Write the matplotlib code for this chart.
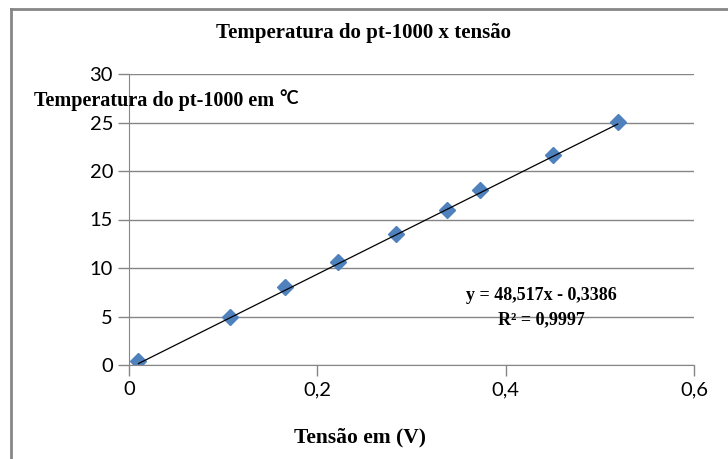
import matplotlib.pyplot as plt
import numpy as np
from matplotlib.lines import Line2D

# data
tensao = [0.01, 0.107, 0.166, 0.222, 0.284, 0.338, 0.373, 0.45, 0.519]
temperatura = [0.4, 4.95, 8.0, 10.6, 13.5, 16.0, 18.0, 21.7, 25.1]
coef_a = 48.517
coef_b = -0.3386
x_ticks = [0, 0.2, 0.4, 0.6]
x_tick_labels = ["0", "0,2", "0,4", "0,6"]
y_ticks = [0, 5, 10, 15, 20, 25, 30]

serif = "Liberation Serif"
sans = "Lato"

fig = plt.figure(figsize=(7.28, 4.59), dpi=100)
ax = fig.add_axes([129 / 728, 1 - 365 / 459, 565 / 728, 291 / 459])

# trend line
xl = np.array([min(tensao), max(tensao)])
ax.plot(xl, coef_a * xl + coef_b, color="black", lw=0.9, zorder=3)
ax.plot(tensao, temperatura, linestyle="none", marker="D", markersize=8.5,
        color="#4f81bd", markeredgecolor="#4f81bd", zorder=2)

ax.set_xlim(0, 0.6)
ax.set_ylim(0, 30)
ax.set_xticks(x_ticks)
ax.set_xticklabels(x_tick_labels)
ax.set_yticks(y_ticks)
ax.yaxis.grid(True, color="#868686", lw=1)
ax.set_axisbelow(True)
for s in ["top", "right"]:
    ax.spines[s].set_visible(False)
for s in ["left", "bottom"]:
    ax.spines[s].set_color("#868686")
ax.tick_params(axis="both", colors="#868686", length=8, width=1,
               labelcolor="black", labelsize=14.5)
for lab in ax.get_xticklabels() + ax.get_yticklabels():
    lab.set_fontfamily(sans)

fig.text(364 / 728, 1 - 33 / 459, "Temperatura do pt-1000 x tensão",
         ha="center", va="center", family=serif, weight="bold", fontsize=15)
ylab = fig.text(34 / 728, 1 - 101 / 459, "Temperatura do pt-1000 em ", ha="left",
                va="center", family=serif, weight="bold", fontsize=14.5)
fig.canvas.draw()
bb = ylab.get_window_extent()
fig.text(bb.x1 / 728, 1 - 99 / 459, "°C", ha="left", va="center",
         family=sans, weight="bold", fontsize=13)
fig.text(360 / 728, 1 - 437 / 459, "Tensão em (V)", ha="center", va="center",
         family=serif, weight="bold", fontsize=15.5)

fig.text(541 / 728, 1 - 296 / 459, "y = 48,517x - 0,3386", ha="center",
         va="center", family=serif, weight="bold", fontsize=13)
fig.text(541 / 728, 1 - 320 / 459, "R² = 0,9997", ha="center",
         va="center", family=serif, weight="bold", fontsize=13)

# chart area border (left and top visible)
fig.add_artist(Line2D([11 / 728, 11 / 728], [0, 1 - 9 / 459],
                      transform=fig.transFigure, color="#868686", lw=2))
fig.add_artist(Line2D([11 / 728, 1], [1 - 9 / 459, 1 - 9 / 459],
                      transform=fig.transFigure, color="#868686", lw=2))

fig.savefig("out.png", dpi=100)
